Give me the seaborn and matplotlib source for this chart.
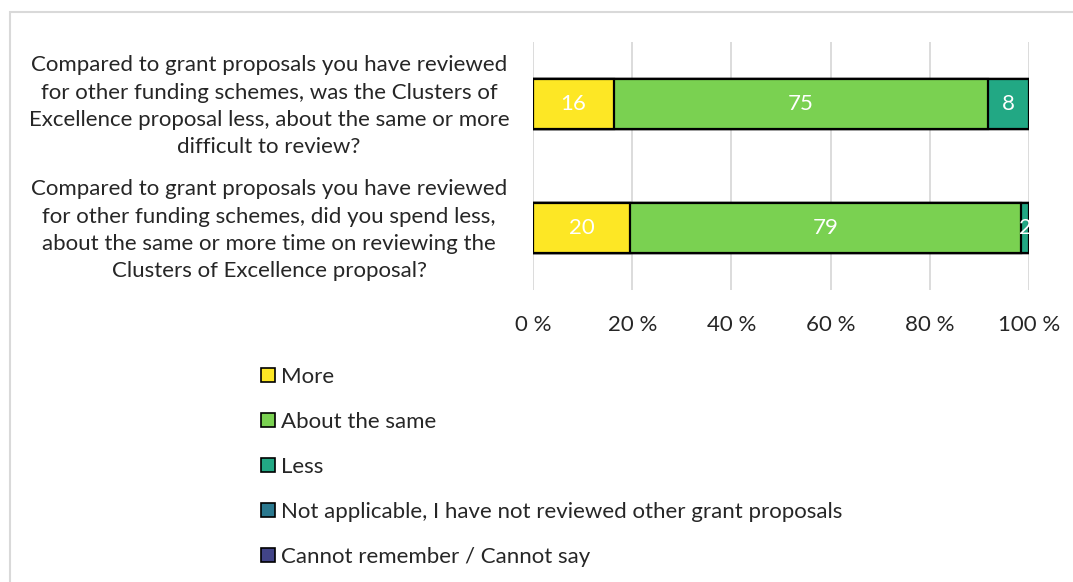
import matplotlib
matplotlib.use("Agg")
import matplotlib.pyplot as plt
from matplotlib.patches import Patch, Rectangle
from matplotlib.transforms import ScaledTranslation
import numpy as np
import pandas as pd
import seaborn as sns

questions = [
    "Compared to grant proposals you have reviewed\nfor other funding schemes, was the Clusters of\nExcellence proposal less, about the same or more\ndifficult to review?",
    "Compared to grant proposals you have reviewed\nfor other funding schemes, did you spend less,\nabout the same or more time on reviewing the\nClusters of Excellence proposal?",
]
answers = [
    "More",
    "About the same",
    "Less",
    "Not applicable, I have not reviewed other grant proposals",
    "Cannot remember / Cannot say",
]
more = [16.3, 19.6]
same = [75.4, 78.8]
less = [8.3, 1.6]
not_applicable = [0.0, 0.0]
cannot_say = [0.0, 0.0]
colors = ["#FDE725", "#7AD151", "#22A884", "#2A788E", "#414487"]
x_ticks = [0, 20, 40, 60, 80, 100]
x_ticklabels = ["0 %", "20 %", "40 %", "60 %", "80 %", "100 %"]

sns.set_theme(style="white")
plt.rcParams["font.family"] = ["Lato", "DejaVu Sans"]
FS = 16

series = [more, same, less, not_applicable, cannot_say]
df = pd.DataFrame({a: v for a, v in zip(answers, series)})
df["question"] = questions
cum = df[answers].cumsum(axis=1)

fig = plt.figure(figsize=(10.73, 5.82), dpi=100)
ax = fig.add_axes([533 / 1073, 1 - 290 / 582, 496 / 1073, 248 / 582])

# stacked bars: draw cumulative totals from the outermost segment inwards
for ans, col in reversed(list(zip(answers, colors))):
    sns.barplot(data=cum.assign(question=questions), x=ans, y="question",
                orient="h", color=col, saturation=1, width=0.4,
                edgecolor="black", linewidth=1.6, ax=ax, zorder=3)

# value labels centred on each visible segment
for i in range(len(questions)):
    start = 0.0
    for ans in answers:
        v = df.loc[i, ans]
        if v > 0:
            ax.text(start + v / 2, i, f"{v:.0f}", ha="center", va="center",
                    color="white", fontsize=FS, zorder=5)
        start += v

ax.set_xlim(0, 100)
ax.set_ylim(1.5, -0.5)
ax.set_xticks(x_ticks)
ax.set_xticklabels(x_ticklabels, fontsize=FS)
ax.set_yticks(range(len(questions)))
ax.set_yticklabels(questions, fontsize=FS, ha="center", linespacing=1.45)
ax.tick_params(axis="y", pad=190, length=0)
ax.tick_params(axis="x", pad=18, length=0)
# nudge the question labels slightly upwards
for lbl in ax.get_yticklabels():
    lbl.set_transform(lbl.get_transform() + ScaledTranslation(0, 2.5 / 72, fig.dpi_scale_trans))
ax.set_xlabel("")
ax.set_ylabel("")
ax.grid(axis="x", color="#d9d9d9", linewidth=1.3, zorder=0)
ax.set_axisbelow(True)
for s in ax.spines.values():
    s.set_visible(False)

handles = [Patch(facecolor=c, edgecolor="black", linewidth=1.2) for c in colors]
fig.legend(handles, answers, loc="upper left", bbox_to_anchor=(261 / 1073, 1 - 367 / 582),
           frameon=False, fontsize=FS, handlelength=0.62, handleheight=0.62,
           handletextpad=0.3, labelspacing=1.12, borderaxespad=0, borderpad=0)

# chart frame
fig.patches.append(Rectangle((10 / 1073, -0.1), 1.2, 1 - 12 / 582 + 0.1,
                             transform=fig.transFigure, fill=False,
                             edgecolor="#d9d9d9", linewidth=1.5))

fig.savefig("out.png", dpi=100)
